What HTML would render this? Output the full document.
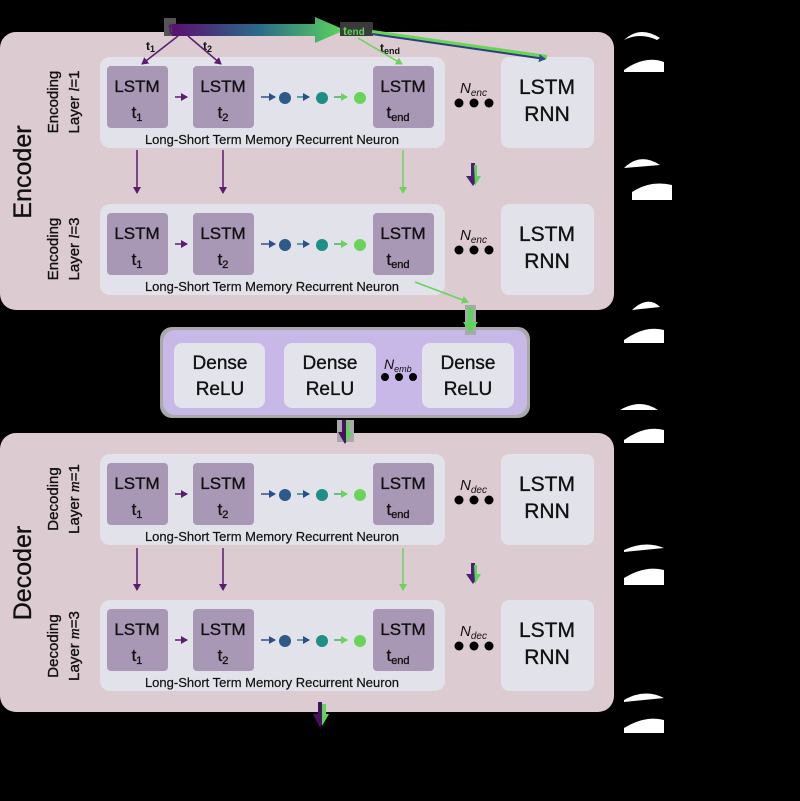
<!DOCTYPE html>
<html><head><style>
html,body{margin:0;padding:0;background:#000;}
svg{display:block;}
text{font-family:"Liberation Sans",sans-serif;}
.b text, text.b{stroke:#111;stroke-width:0.35;}
</style></head><body>
<svg width="800" height="801" viewBox="0 0 800 801" xmlns="http://www.w3.org/2000/svg">
<defs>
<linearGradient id="g1" x1="0" x2="1" y1="0" y2="0">
<stop offset="0" stop-color="#5a0f6e"/><stop offset="0.5" stop-color="#2a6a8a"/><stop offset="1" stop-color="#5cd65a"/>
</linearGradient>
<marker id="ap" markerWidth="8" markerHeight="8" refX="6" refY="4" orient="auto" markerUnits="userSpaceOnUse"><path d="M0,0 L7,4 L0,8z" fill="#5a1d6e"/></marker>
<marker id="ag" markerWidth="8" markerHeight="8" refX="6" refY="4" orient="auto" markerUnits="userSpaceOnUse"><path d="M0,0 L7,4 L0,8z" fill="#6ad45a"/></marker>
<marker id="ab" markerWidth="8" markerHeight="8" refX="6" refY="4" orient="auto" markerUnits="userSpaceOnUse"><path d="M0,0 L7,4 L0,8z" fill="#2c4f8a"/></marker>
</defs>
<rect width="800" height="801" fill="#000"/>

<rect x="0" y="32" width="614" height="278" rx="16" fill="#dccbd0"/>
<rect x="0" y="433" width="614" height="279" rx="16" fill="#dccbd0"/>
<rect x="160" y="327" width="370" height="91" rx="12" fill="#a9a9a9"/>
<rect x="163" y="330" width="364" height="85" rx="12" fill="#c8b8e8"/>

<g font-size="19" text-anchor="middle" fill="#111" class="b">
<rect x="174" y="343" width="91" height="65" rx="8" fill="#e3e3ec"/>
<rect x="284" y="343" width="92" height="65" rx="8" fill="#e3e3ec"/>
<rect x="422" y="343" width="92" height="65" rx="8" fill="#e3e3ec"/>
<text x="220" y="369">Dense</text><text x="220" y="395">ReLU</text>
<text x="330" y="369">Dense</text><text x="330" y="395">ReLU</text>
<text x="468" y="369">Dense</text><text x="468" y="395">ReLU</text>
</g>
<text x="384" y="369" font-family="Liberation Serif" font-style="italic" font-size="14" fill="#111">N<tspan font-size="9" dy="3">emb</tspan></text>
<circle cx="385" cy="377" r="4" fill="#000"/><circle cx="399" cy="377" r="4" fill="#000"/><circle cx="413" cy="377" r="4" fill="#000"/>

<g id="L1" transform="translate(0,57)">
<rect x="100" y="0" width="345" height="91" rx="10" fill="#e2e3ea"/>
<rect x="107" y="9" width="61" height="62" rx="4" fill="#a898b5"/>
<rect x="193" y="9" width="61" height="62" rx="4" fill="#a898b5"/>
<rect x="373" y="9" width="61" height="62" rx="4" fill="#a898b5"/>
<g font-size="17" text-anchor="middle" fill="#111" class="b">
<text x="137" y="35">LSTM</text><text x="137" y="61">t<tspan font-size="11" dy="3">1</tspan></text>
<text x="223" y="35">LSTM</text><text x="223" y="61">t<tspan font-size="11" dy="3">2</tspan></text>
<text x="403" y="35">LSTM</text><text x="398" y="61">t<tspan font-size="11" dy="3">end</tspan></text>
</g>
<text x="272" y="87" font-size="13" text-anchor="middle" fill="#111" class="b" style="stroke-width:0.2">Long-Short Term Memory Recurrent Neuron</text>
<line x1="175" y1="40" x2="187" y2="40" stroke="#5a1d6e" stroke-width="1.5" marker-end="url(#ap)"/>
<line x1="261" y1="40" x2="275" y2="40" stroke="#3a4f8a" stroke-width="1.5" marker-end="url(#ab)"/>
<circle cx="285" cy="41" r="6" fill="#2d5a88"/>
<line x1="297" y1="40" x2="309" y2="40" stroke="#2a8a8a" stroke-width="1.5" marker-end="url(#ab)"/>
<circle cx="322" cy="41" r="6" fill="#1e8e86"/>
<line x1="334" y1="40" x2="347" y2="40" stroke="#3fae74" stroke-width="1.5" marker-end="url(#ag)"/>
<circle cx="360" cy="41" r="6" fill="#6ad45a"/>
<circle cx="459" cy="46" r="4.5" fill="#000"/><circle cx="474" cy="46" r="4.5" fill="#000"/><circle cx="489" cy="46" r="4.5" fill="#000"/>
<rect x="501" y="0" width="93" height="91" rx="8" fill="#e2e3ea"/>
<text x="547" y="37" font-size="21" text-anchor="middle" fill="#111" class="b">LSTM</text>
<text x="547" y="64" font-size="21" text-anchor="middle" fill="#111" class="b">RNN</text>
</g>
<use href="#L1" transform="translate(0,147)"/>
<use href="#L1" transform="translate(0,397)"/>
<use href="#L1" transform="translate(0,543)"/>

<g font-family="Liberation Serif" font-style="italic" font-size="15" fill="#111">
<text x="460" y="93">N<tspan font-size="10" dy="3">enc</tspan></text>
<text x="460" y="240">N<tspan font-size="10" dy="3">enc</tspan></text>
<text x="460" y="490">N<tspan font-size="10" dy="3">dec</tspan></text>
<text x="460" y="636">N<tspan font-size="10" dy="3">dec</tspan></text>
</g>

<g fill="#111" text-anchor="middle" class="b">
<text transform="translate(31,172) rotate(-90)" font-size="25">Encoder</text>
<text transform="translate(31,573) rotate(-90)" font-size="25">Decoder</text>
<g font-size="15">
<text transform="translate(58,102) rotate(-90)">Encoding</text>
<text transform="translate(79,102) rotate(-90)">Layer <tspan font-family="Liberation Serif" font-style="italic">l</tspan>=1</text>
<text transform="translate(58,249) rotate(-90)">Encoding</text>
<text transform="translate(79,249) rotate(-90)">Layer <tspan font-family="Liberation Serif" font-style="italic">l</tspan>=3</text>
<text transform="translate(58,499) rotate(-90)">Decoding</text>
<text transform="translate(79,499) rotate(-90)">Layer <tspan font-family="Liberation Serif" font-style="italic">m</tspan>=1</text>
<text transform="translate(58,646) rotate(-90)">Decoding</text>
<text transform="translate(79,646) rotate(-90)">Layer <tspan font-family="Liberation Serif" font-style="italic">m</tspan>=3</text>
</g>
</g>

<g stroke-width="1.5">
<line x1="137" y1="150" x2="137" y2="193" stroke="#5a1d6e" marker-end="url(#ap)"/>
<line x1="223" y1="150" x2="223" y2="193" stroke="#5a1d6e" marker-end="url(#ap)"/>
<line x1="403" y1="150" x2="403" y2="193" stroke="#6ad45a" marker-end="url(#ag)"/>
<line x1="137" y1="548" x2="137" y2="590" stroke="#5a1d6e" marker-end="url(#ap)"/>
<line x1="223" y1="548" x2="223" y2="590" stroke="#5a1d6e" marker-end="url(#ap)"/>
<line x1="403" y1="548" x2="403" y2="590" stroke="#6ad45a" marker-end="url(#ag)"/>
<line x1="415" y1="282" x2="468" y2="302" stroke="#6ad45a" marker-end="url(#ag)"/>
</g>
<g>
<path d="M471,163 L475,163 L475,176 L480,176 L473,186 L466,176 L471,176z" fill="#4a2070"/>
<path d="M474,165 L477,165 L477,176 L481,176 L475,186z" fill="#5cd65a"/>
<path d="M471,563 L475,563 L475,574 L480,574 L473,584 L466,574 L471,574z" fill="#4a2070"/>
<path d="M474,565 L477,565 L477,574 L481,574 L475,584z" fill="#5cd65a"/>
<rect x="465" y="305" width="11" height="30" fill="#a9a9a9"/>
<path d="M468,307 L473,307 L473,322 L478,322 L470,333 L463,322 L468,322z" fill="#5cd65a"/>
<rect x="337" y="420" width="17" height="22" fill="#a9a9a9"/>
<path d="M342,420 L346,420 L346,432 L352,432 L345,444 L338,432 L342,432z" fill="#4a1060"/>
<path d="M346,422 L349,422 L349,432 L353,432 L346,442z" fill="#5cd65a"/>
<path d="M318,702 L322,702 L322,714 L327,714 L320,728 L313,714 L318,714z" fill="#4a1060"/>
<path d="M322,704 L326,704 L326,714 L329,714 L322,726z" fill="#5cd65a"/>
</g>

<rect x="164" y="18" width="12" height="18" fill="#555"/>
<path d="M172,24 L315,24 L315,17 L345,30 L315,43 L315,36 L172,36z" fill="url(#g1)"/>
<rect x="340" y="22" width="33" height="14" fill="#3a3a3a"/>
<text x="343" y="35" font-size="12" font-weight="bold" fill="#5cd65a">t<tspan font-size="10">end</tspan></text>
<text x="168" y="34" font-size="16" font-weight="bold" fill="#5a1d6e">t</text>
<text x="146" y="50" font-size="12" font-weight="bold" fill="#111">t<tspan font-size="9" dy="2">1</tspan></text>
<text x="203" y="50" font-size="12" font-weight="bold" fill="#111">t<tspan font-size="9" dy="2">2</tspan></text>
<text x="380" y="52" font-size="12" font-weight="bold" fill="#111">t<tspan font-size="9" dy="2">end</tspan></text>
<line x1="178" y1="36" x2="142" y2="64" stroke="#5a1d6e" stroke-width="1.5" marker-end="url(#ap)"/>
<line x1="188" y1="36" x2="221" y2="64" stroke="#5a1d6e" stroke-width="1.5" marker-end="url(#ap)"/>
<line x1="358" y1="38" x2="402" y2="64" stroke="#6ad45a" stroke-width="1.5" marker-end="url(#ag)"/>
<line x1="372" y1="32" x2="547" y2="57" stroke="#6ad45a" stroke-width="4"/>
<line x1="372" y1="34" x2="545" y2="59" stroke="#2c3f7a" stroke-width="2" marker-end="url(#ab)"/>

<g fill="#fff">
<path d="M624,40 Q640,25 660,38 L657,40 Q640,32 624,40z"/>
<path d="M624,70 Q645,55 664,62 L664,72 L624,72z"/>
<path d="M624,168 Q640,152 660,165 L624,168z"/>
<path d="M632,192 Q650,180 672,185 L672,200 L632,200z"/>
<path d="M632,310 Q648,295 660,307 L632,310z"/>
<path d="M624,340 Q645,325 664,330 L664,343 L624,343z"/>
<path d="M620,410 Q640,398 658,410 L620,410z"/>
<path d="M624,440 Q645,425 664,430 L664,443 L624,443z"/>
<path d="M624,550 Q645,540 664,548 L624,552z"/>
<path d="M624,578 Q645,565 664,570 L664,585 L624,585z"/>
<path d="M624,700 Q645,688 664,698 L624,702z"/>
<path d="M624,728 Q645,715 664,720 L664,733 L624,733z"/>
</g>
</svg>
</body></html>
